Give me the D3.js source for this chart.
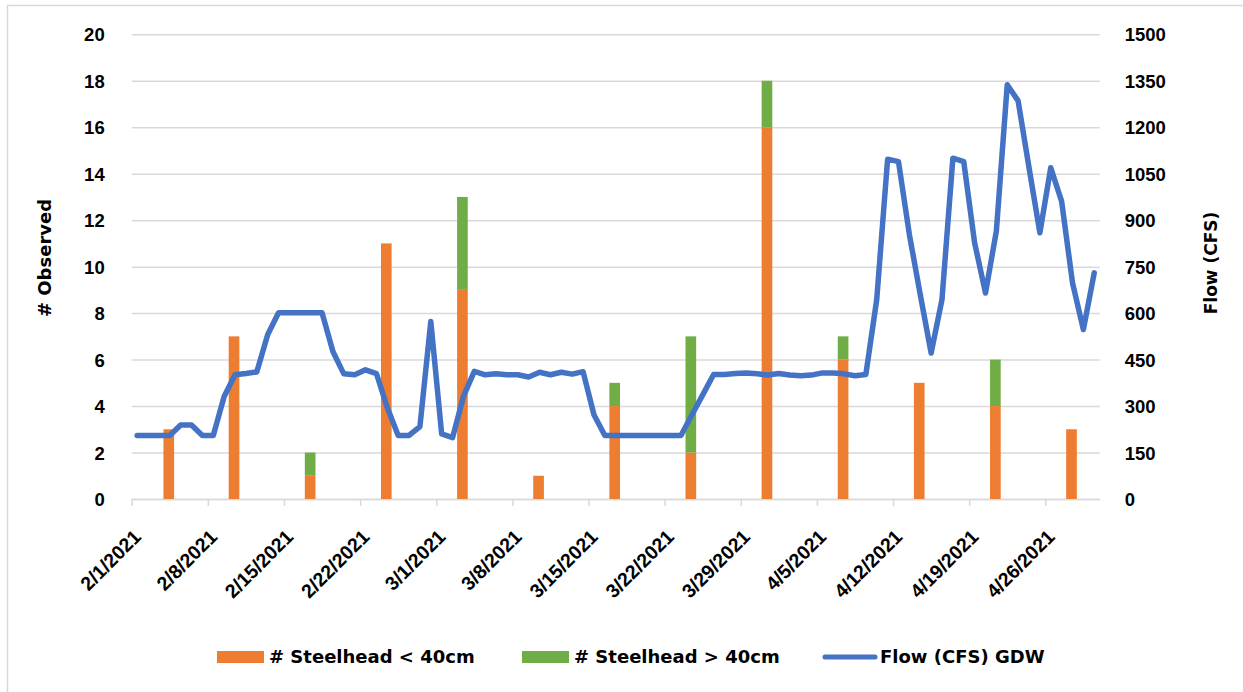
<!DOCTYPE html>
<html>
<head>
<meta charset="utf-8">
<script src="https://cdnjs.cloudflare.com/ajax/libs/d3/7.8.5/d3.min.js"></script>
<style>
  body { margin: 0; background: #fff; }
  svg { display: block; font-family: "DejaVu Sans", sans-serif; font-weight: bold; }
  .axis text { fill: #000; }
</style>
</head>
<body>
<svg width="1243" height="692"></svg>
<script>
// weekly tick labels on the date axis
var tickLabels = ["2/1/2021", "2/8/2021", "2/15/2021", "2/22/2021", "3/1/2021", "3/8/2021",
  "3/15/2021", "3/22/2021", "3/29/2021", "4/5/2021", "4/12/2021", "4/19/2021", "4/26/2021"];

// survey dates and counts
var surveyDates = ["2/4/2021", "2/10/2021", "2/17/2021", "2/24/2021", "3/3/2021", "3/10/2021",
  "3/17/2021", "3/24/2021", "3/31/2021", "4/7/2021", "4/14/2021", "4/21/2021", "4/28/2021"];
var steelheadSmall = [3, 7, 1, 11, 9, 1, 4, 2, 16, 6, 5, 4, 3];
var steelheadLarge = [0, 0, 1, 0, 4, 0, 1, 5, 2, 1, 0, 2, 0];

// daily flow (CFS) at GDW, starting 2/1/2021
var flowStart = "2/1/2021";
var flowCFS = [205, 205, 205, 205, 239, 239, 205, 205, 331, 401,
  405, 410, 530, 601, 601, 601, 601, 601, 476, 404,
  401, 417, 405, 295, 205, 205, 234, 573, 210, 198,
  331, 412, 401, 404, 401, 401, 394, 409, 401, 409,
  403, 411, 272, 205, 205, 205, 205, 205, 205, 205,
  205, 271, 336, 402, 402, 405, 407, 404, 400, 405,
  400, 398, 400, 407, 407, 404, 398, 402, 644, 1097,
  1089, 854, 660, 471, 644, 1100, 1089, 827, 665, 865,
  1337, 1285, 1070, 859, 1069, 961, 698, 547, 730];

var leftTicks = [0, 2, 4, 6, 8, 10, 12, 14, 16, 18, 20];
var rightTicks = [0, 150, 300, 450, 600, 750, 900, 1050, 1200, 1350, 1500];

var seriesNames = ["# Steelhead < 40cm", "# Steelhead > 40cm", "Flow (CFS) GDW"];
var colors = ["#ED7D31", "#70AD47", "#4472C4"];

var svg = d3.select("svg"),
    margin = {top: 34.3, left: 131.7},
    width = 968,
    height = 464.7,
    g = svg.append("g").attr("transform", "translate(" + margin.left + "," + margin.top + ")");

var parseDate = d3.utcParse("%m/%d/%Y");
var start = parseDate(flowStart);

// outer chart border (only top and left fall inside the picture)
svg.append("rect")
    .attr("x", 7.5).attr("y", 5.5)
    .attr("width", 1260).attr("height", 700)
    .attr("fill", "none")
    .attr("stroke", "#d9d9d9")
    .attr("stroke-width", 1.5);

var x = d3.scaleUtc()
    .domain([start, d3.utcDay.offset(start, 89)])
    .range([0, width]);
var dayW = x(d3.utcDay.offset(start, 1)) - x(start);

var yL = d3.scaleLinear().domain([0, 20]).range([height, 0]);
var yR = d3.scaleLinear().domain([0, 1500]).range([height, 0]);

// gridlines + left axis
var gL = g.append("g")
    .attr("class", "axis")
    .call(d3.axisLeft(yL).tickValues(leftTicks).tickSize(-width).tickPadding(27));
gL.select(".domain").remove();
gL.selectAll(".tick line").attr("stroke", "#d9d9d9").attr("stroke-width", 1.5);
gL.selectAll("text").style("font-size", "18.5px").attr("dy", "0.36em");

var gR = g.append("g")
    .attr("class", "axis")
    .attr("transform", "translate(" + width + ",0)")
    .call(d3.axisRight(yR).tickValues(rightTicks).tickFormat(d3.format("d")).tickSize(0).tickPadding(25));
gR.select(".domain").remove();
gR.selectAll("text").style("font-size", "18.5px").attr("dy", "0.36em");

// date axis
var gX = g.append("g")
    .attr("class", "axis")
    .attr("transform", "translate(0," + height + ")")
    .call(d3.axisBottom(x)
      .tickValues(tickLabels.map(parseDate))
      .tickFormat(function(d, i) { return tickLabels[i]; })
      .tickSize(7).tickSizeOuter(0));
gX.select(".domain").attr("stroke", "#d9d9d9").attr("stroke-width", 1.5);
gX.selectAll(".tick line").attr("stroke", "#d9d9d9").attr("stroke-width", 1.5);
gX.selectAll("text")
    .attr("y", null).attr("dy", null)
    .attr("text-anchor", "end")
    .attr("transform", "translate(10,39) rotate(-45)")
    .style("font-size", "19.5px");

// stacked bars
var bars = surveyDates.map(function(s, i) {
  return {date: parseDate(s), small: steelheadSmall[i], large: steelheadLarge[i]};
});
var barW = dayW * 0.98;

g.selectAll(".bar-small")
    .data(bars)
  .enter().append("rect")
    .attr("class", "bar-small")
    .attr("x", function(d) { return x(d.date) + dayW / 2 - barW / 2 - 1; })
    .attr("width", barW)
    .attr("y", function(d) { return yL(d.small); })
    .attr("height", function(d) { return yL(0) - yL(d.small); })
    .attr("fill", colors[0]);

g.selectAll(".bar-large")
    .data(bars.filter(function(d) { return d.large > 0; }))
  .enter().append("rect")
    .attr("class", "bar-large")
    .attr("x", function(d) { return x(d.date) + dayW / 2 - barW / 2 - 1; })
    .attr("width", barW)
    .attr("y", function(d) { return yL(d.small + d.large); })
    .attr("height", function(d) { return yL(d.small) - yL(d.small + d.large); })
    .attr("fill", colors[1]);

// flow line
var flow = flowCFS.map(function(v, i) { return {date: d3.utcDay.offset(start, i), value: v}; });
var line = d3.line()
    .x(function(d) { return x(d.date) + dayW / 2; })
    .y(function(d) { return yR(d.value); });

g.append("path")
    .datum(flow)
    .attr("d", line)
    .attr("fill", "none")
    .attr("stroke", colors[2])
    .attr("stroke-width", 5.5)
    .attr("stroke-linejoin", "round")
    .attr("stroke-linecap", "round");

// axis titles
svg.append("text")
    .attr("transform", "translate(45,258) rotate(-90)")
    .attr("text-anchor", "middle")
    .attr("dy", "0.35em")
    .style("font-size", "18px")
    .text("# Observed");

svg.append("text")
    .attr("transform", "translate(1211,263) rotate(-90)")
    .attr("text-anchor", "middle")
    .attr("dy", "0.35em")
    .style("font-size", "17px")
    .text("Flow (CFS)");

// legend
var legendX = [217, 522, 823];
var legend = svg.selectAll(".legend")
    .data(seriesNames)
  .enter().append("g")
    .attr("class", "legend")
    .attr("transform", function(d, i) { return "translate(" + legendX[i] + ",657)"; });

legend.filter(function(d, i) { return i < 2; })
  .append("rect")
    .attr("x", 0).attr("y", -6)
    .attr("width", 47).attr("height", 12)
    .attr("fill", function(d, i) { return colors[i]; });

legend.filter(function(d, i) { return i == 2; })
  .append("line")
    .attr("x1", 2).attr("x2", 52)
    .attr("stroke", colors[2])
    .attr("stroke-width", 5)
    .attr("stroke-linecap", "round");

legend.append("text")
    .attr("x", function(d, i) { return i < 2 ? 52 : 57; })
    .attr("dy", "0.36em")
    .style("font-size", "18px")
    .text(function(d) { return d; });
</script>
</body>
</html>
